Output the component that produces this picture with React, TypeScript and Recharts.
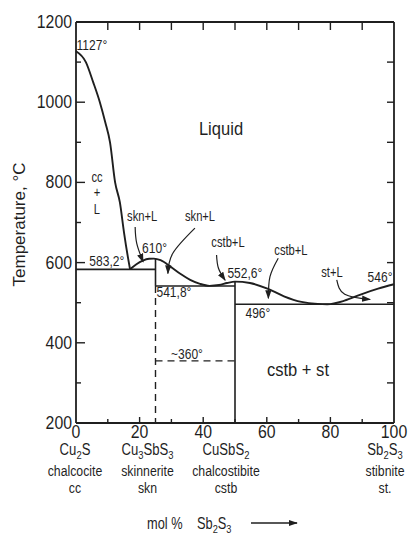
import React from 'react';
import { ComposedChart, Line, XAxis, YAxis, ReferenceLine, Scatter } from 'recharts';

// ---------- data ----------
const xTicks = [0, 10, 20, 25, 30, 40, 50, 60, 70, 80, 90, 100];
const xLabelTicks = [0, 20, 40, 60, 80, 100];
const yTicks = [200, 300, 400, 500, 600, 700, 800, 900, 1000, 1100, 1200];
const yLabelTicks = [200, 400, 600, 800, 1000, 1200];

const compoundX = [0, 25, 50, 100];
const compoundFormula = ['Cu2S', 'Cu3SbS3', 'CuSbS2', 'Sb2S3'];
const compoundName = ['chalcocite', 'skinnerite', 'chalcostibite', 'stibnite'];
const compoundAbbr = ['cc', 'skn', 'cstb', 'st.'];

// liquidus, Cu2S side
const liquidusCc = [
  { x: 0, y: 1127 }, { x: 3.1, y: 1100 }, { x: 5.4, y: 1050 }, { x: 7.5, y: 1000 },
  { x: 9.2, y: 950 }, { x: 10.7, y: 900 }, { x: 12.3, y: 800 }, { x: 13.8, y: 750 },
  { x: 15.1, y: 675 }, { x: 16.4, y: 610 }, { x: 17, y: 583.2 },
];
// liquidus from the cc-skn eutectic to Sb2S3
const liquidusMain = [
  { x: 17, y: 583.2 }, { x: 19, y: 596 }, { x: 21, y: 605 }, { x: 23, y: 609.5 },
  { x: 24.5, y: 610 }, { x: 26.6, y: 606 }, { x: 29.7, y: 590 }, { x: 32.8, y: 572 },
  { x: 35.9, y: 557 }, { x: 39, y: 547 }, { x: 42, y: 542 }, { x: 45, y: 544 },
  { x: 47.5, y: 549 }, { x: 50, y: 552.6 }, { x: 54.7, y: 549 }, { x: 60.2, y: 535 },
  { x: 65.4, y: 516 }, { x: 70.9, y: 502 }, { x: 76, y: 497 }, { x: 79, y: 496.3 },
  { x: 84.4, y: 505 }, { x: 89.7, y: 521 }, { x: 95, y: 535 }, { x: 100, y: 546 },
];
// invariant / phase-boundary lines
const eutectic583 = [{ x: 0, y: 583.2 }, { x: 25, y: 583.2 }];
const sknSolid = [{ x: 25, y: 610 }, { x: 25, y: 541.8 }];
const sknDashed = [{ x: 25, y: 541.8 }, { x: 25, y: 200 }];
const peritectic541 = [{ x: 25, y: 541.8 }, { x: 50, y: 541.8 }];
const cstbSolid = [{ x: 50, y: 552.6 }, { x: 50, y: 200 }];
const eutectic496 = [{ x: 50, y: 496 }, { x: 100, y: 496 }];
const transition360 = [{ x: 25, y: 355 }, { x: 50, y: 355 }];

// leader arrows
const arrowSkn1 = [{ x: 18.6, y: 689 }, { x: 19.1, y: 648 }, { x: 21.1, y: 602 }];
const arrowSkn2 = [{ x: 37.4, y: 686 }, { x: 30.5, y: 624 }, { x: 28.9, y: 573 }];
const arrowCstb1 = [{ x: 44.2, y: 619 }, { x: 44.8, y: 586 }, { x: 46.9, y: 556 }];
const arrowCstb2 = [{ x: 63.6, y: 611 }, { x: 61, y: 565 }, { x: 60.5, y: 511 }];
const arrowSt = [{ x: 82, y: 557 }, { x: 84.5, y: 521 }, { x: 92.5, y: 508 }];

// text annotations
const fieldLabels = [
  { x: 45.6, y: 934, text: 'Liquid' },
  { x: 69.8, y: 332, text: 'cstb + st' },
];
const phaseLabels = [
  { x: 6.6, y: 811, text: 'cc' },
  { x: 6.6, y: 774, text: '+' },
  { x: 6.6, y: 731, text: 'L' },
  { x: 20.8, y: 714, text: 'skn+L' },
  { x: 39, y: 714, text: 'skn+L' },
  { x: 47.8, y: 649, text: 'cstb+L' },
  { x: 67.6, y: 631, text: 'cstb+L' },
  { x: 80.5, y: 574, text: 'st+L' },
];
const tempLabels = [
  { x: 5, y: 1143, text: '1127°' },
  { x: 9.7, y: 603, text: '583,2°' },
  { x: 24.7, y: 636, text: '610°' },
  { x: 30.8, y: 527, text: '541,8°' },
  { x: 53.1, y: 574, text: '552,6°' },
  { x: 95.6, y: 564, text: '546°' },
  { x: 57.2, y: 474, text: '496°' },
  { x: 34.9, y: 372, text: '~360°' },
];

// ---------- layout / style ----------
const W = 414;
const H = 536;
const MARGIN = { top: 22, right: 20, bottom: 0, left: 0 };
const YAXIS_W = 76;
const XAXIS_H = 113;
const PLOT_W = W - MARGIN.left - MARGIN.right - YAXIS_W;
const PLOT_H = H - MARGIN.top - MARGIN.bottom - XAXIS_H;
const INK = '#1f1f1f';
const FONT = "'Liberation Sans', Arial, sans-serif";
const compoundDx = [-1, -8, -9, -9];

// narrow text: horizontally compressed to mimic the lettering-guide font
const NText = ({ x, y, size, sx, anchor = 'middle', central = false, children }: any) => (
  <text
    x={x / sx}
    y={y}
    transform={`scale(${sx},1)`}
    textAnchor={anchor}
    dominantBaseline={central ? 'central' : undefined}
    fontSize={size}
    fill={INK}
    fontFamily={FONT}
  >
    {children}
  </text>
);

const formula = (s: string, size: number) => {
  const parts: React.ReactNode[] = [];
  let sub = false;
  for (let i = 0; i < s.length; i++) {
    const c = s[i];
    const isDigit = c >= '0' && c <= '9';
    if (isDigit) {
      parts.push(<tspan key={i} dy={sub ? 0 : 4} fontSize={size * 0.72}>{c}</tspan>);
      sub = true;
    } else {
      parts.push(<tspan key={i} dy={sub ? -4 : 0} fontSize={size}>{c}</tspan>);
      sub = false;
    }
  }
  return parts;
};

const renderXTick = (props: any) => {
  const { x, y, payload } = props;
  const v = payload.value;
  const items: React.ReactNode[] = [];
  if (v !== 25) {
    if (v !== 0 && v !== 100) {
      const len = v % 20 === 0 ? 6 : 4;
      items.push(<line key="b" x1={x} x2={x} y1={y} y2={y - len} stroke={INK} strokeWidth={1.4} />);
      items.push(<line key="t" x1={x} x2={x} y1={y - PLOT_H} y2={y - PLOT_H + 8} stroke={INK} strokeWidth={1.4} />);
    }
    if (xLabelTicks.includes(v)) {
      items.push(<NText key="l" x={x} y={y + 15} size={18} sx={0.88}>{v}</NText>);
    }
  }
  const ci = compoundX.indexOf(v);
  if (ci >= 0) {
    const cx = x + compoundDx[ci];
    const sx = 0.82;
    items.push(<NText key="f" x={cx} y={y + 32} size={16} sx={sx}>{formula(compoundFormula[ci], 16)}</NText>);
    items.push(<NText key="n" x={cx} y={y + 53} size={15} sx={sx}>{compoundName[ci]}</NText>);
    items.push(<NText key="a" x={cx} y={y + 70} size={15} sx={sx}>{compoundAbbr[ci]}</NText>);
  }
  return <g>{items}</g>;
};

const renderYTick = (props: any) => {
  const { x, y, payload } = props;
  const v = payload.value;
  const items: React.ReactNode[] = [];
  if (v !== 200 && v !== 1200) {
    const len = v % 200 === 0 ? 9 : 5;
    items.push(<line key="l" x1={x} x2={x + len} y1={y} y2={y} stroke={INK} strokeWidth={1.4} />);
    items.push(<line key="r" x1={x + PLOT_W} x2={x + PLOT_W - 7} y1={y} y2={y} stroke={INK} strokeWidth={1.4} />);
  }
  if (yLabelTicks.includes(v)) {
    items.push(<NText key="t" x={x - 4} y={y + 6} size={18} sx={0.88} anchor="end">{v}</NText>);
  }
  return <g>{items}</g>;
};

const yTitle = (props: any) => {
  const vb = props.viewBox || { x: 0, y: MARGIN.top, width: YAXIS_W, height: PLOT_H };
  const cx = vb.x + 25;
  const cy = vb.y + vb.height / 2 + 2;
  return (
    <text x={cx} y={cy} transform={`rotate(-90, ${cx}, ${cy})`} textAnchor="middle" fontSize={17} fill={INK} fontFamily={FONT}>
      Temperature, °C
    </text>
  );
};

const xTitle = (props: any) => {
  const vb = props.viewBox || { x: YAXIS_W, y: MARGIN.top + PLOT_H, width: PLOT_W, height: XAXIS_H };
  const x0 = vb.x + 71;
  const yb = vb.y + 106;
  return (
    <g>
      <NText x={x0} y={yb} size={16} sx={0.8} anchor="start">mol %</NText>
      <NText x={x0 + 50} y={yb} size={16} sx={0.8} anchor="start">{formula('Sb2S3', 16)}</NText>
      <line x1={x0 + 104} x2={x0 + 150} y1={yb - 6} y2={yb - 6} stroke={INK} strokeWidth={1.3} markerEnd="url(#arrowHead)" />
    </g>
  );
};

const textShape = (size: number, sx: number) => (props: any) => {
  const { cx, cy, payload } = props;
  return <NText x={cx} y={cy} size={size} sx={sx} central>{payload.text}</NText>;
};

const lineProps = {
  dataKey: 'y',
  dot: false,
  activeDot: false,
  isAnimationActive: false,
  stroke: INK,
  legendType: 'none' as const,
};

export default function App() {
  return (
    <div style={{ position: 'absolute', left: 0, top: 0, width: W, height: H, background: '#fff' }}>
      <ComposedChart width={W} height={H} margin={MARGIN}>
        <defs>
          <marker id="arrowHead" viewBox="0 0 10 10" refX="9" refY="5" markerWidth="9" markerHeight="9"
            markerUnits="userSpaceOnUse" orient="auto">
            <path d="M0,1.5 L10,5 L0,8.5 z" fill={INK} />
          </marker>
        </defs>
        <XAxis
          type="number"
          dataKey="x"
          domain={[0, 100]}
          ticks={xTicks}
          interval={0}
          tickSize={0}
          tickMargin={0}
          tickLine={false}
          height={XAXIS_H}
          axisLine={{ stroke: INK, strokeWidth: 1.8 }}
          tick={renderXTick}
          label={xTitle}
        />
        <YAxis
          type="number"
          domain={[200, 1200]}
          ticks={yTicks}
          interval={0}
          tickSize={0}
          tickMargin={0}
          tickLine={false}
          width={YAXIS_W}
          axisLine={{ stroke: INK, strokeWidth: 1.8 }}
          tick={renderYTick}
          label={yTitle}
        />
        <ReferenceLine y={1200} stroke={INK} strokeWidth={1.8} />
        <ReferenceLine x={100} stroke={INK} strokeWidth={1.8} />

        <Line {...lineProps} data={liquidusCc} type="monotone" strokeWidth={1.9} />
        <Line {...lineProps} data={liquidusMain} type="monotone" strokeWidth={1.9} />
        <Line {...lineProps} data={eutectic583} type="linear" strokeWidth={1.6} />
        <Line {...lineProps} data={sknSolid} type="linear" strokeWidth={1.6} />
        <Line {...lineProps} data={sknDashed} type="linear" strokeWidth={1.4} strokeDasharray="7 5" />
        <Line {...lineProps} data={peritectic541} type="linear" strokeWidth={1.6} />
        <Line {...lineProps} data={cstbSolid} type="linear" strokeWidth={1.6} />
        <Line {...lineProps} data={eutectic496} type="linear" strokeWidth={1.6} />
        <Line {...lineProps} data={transition360} type="linear" strokeWidth={1.4} strokeDasharray="7 5" />

        <Line {...lineProps} data={arrowSkn1} type="natural" strokeWidth={1.2} markerEnd="url(#arrowHead)" />
        <Line {...lineProps} data={arrowSkn2} type="natural" strokeWidth={1.2} markerEnd="url(#arrowHead)" />
        <Line {...lineProps} data={arrowCstb1} type="natural" strokeWidth={1.2} markerEnd="url(#arrowHead)" />
        <Line {...lineProps} data={arrowCstb2} type="natural" strokeWidth={1.2} markerEnd="url(#arrowHead)" />
        <Line {...lineProps} data={arrowSt} type="natural" strokeWidth={1.2} markerEnd="url(#arrowHead)" />

        <Scatter data={fieldLabels} dataKey="y" isAnimationActive={false} shape={textShape(18, 0.92)} legendType="none" />
        <Scatter data={phaseLabels} dataKey="y" isAnimationActive={false} shape={textShape(14, 0.8)} legendType="none" />
        <Scatter data={tempLabels} dataKey="y" isAnimationActive={false} shape={textShape(14, 0.86)} legendType="none" />
      </ComposedChart>
    </div>
  );
}
